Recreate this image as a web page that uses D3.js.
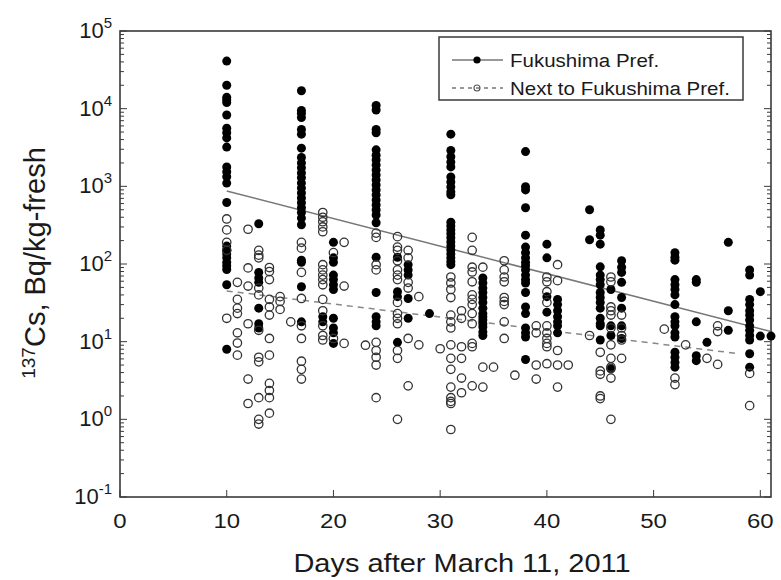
<!DOCTYPE html>
<html>
<head>
<meta charset="utf-8">
<script src="https://cdn.jsdelivr.net/npm/d3@7"></script>
<style>
  body { margin: 0; background: #fff; }
  svg { font-family: "Liberation Sans", Arial, sans-serif; }
</style>
</head>
<body>
<svg id="chart" width="781" height="580"></svg>
<script>
// 137Cs in vegetables, Bq/kg-fresh, grouped by day after March 11, 2011
const fukushima = [
  [10, [41000, 20000, 14000, 13000, 12000, 8300, 5600, 4900, 4200, 3200, 1780, 1540, 1330, 1100, 620, 170, 150, 135, 120, 105, 95, 85, 54, 8]],
  [13, [330, 78, 66, 58, 27, 17, 15]],
  [17, [17000, 9500, 8700, 7700, 5400, 4700, 3100, 2350, 2000, 1730, 1490, 1290, 1100, 950, 820, 710, 615, 530, 460, 390, 320, 112, 105, 51, 18]],
  [19, [21, 18]],
  [20, [190, 120, 105, 72, 63, 54, 47, 20, 15, 13, 9.5]],
  [24, [11000, 9600, 5400, 4900, 2950, 2520, 2180, 1880, 1620, 1400, 1210, 1040, 900, 775, 665, 575, 495, 428, 340, 122, 43, 21, 18, 16]],
  [26, [122, 44, 38, 9.8]],
  [27, [98, 84, 72, 36, 20]],
  [29, [23]],
  [31, [4700, 2900, 2400, 2050, 1780, 1320, 1140, 980, 850, 780, 345, 308, 275, 245, 218, 192, 170, 152, 135, 120, 108, 98]],
  [34, [66, 57, 49, 43, 37, 32, 27, 23, 21, 19, 17, 15.5, 13.3, 12]],
  [38, [2800, 990, 900, 530, 235, 165, 140, 120, 105, 95, 84, 72, 63, 57, 43, 28, 23, 15, 13, 11.5, 5.9]],
  [40, [180, 120, 38, 24]],
  [41, [35, 30, 25, 21, 18, 16, 13]],
  [44, [500, 205]],
  [45, [275, 235, 180, 92, 72, 63, 54, 43, 37, 32, 27, 20, 17, 16, 10.5]],
  [46, [47, 16, 12, 4.5]],
  [47, [110, 91, 78, 58, 37, 27, 16, 11]],
  [52, [140, 122, 112, 63, 54, 47, 40, 30, 21, 18, 16, 13, 11.5, 7.3, 6.3, 5.4, 4.7]],
  [54, [63, 58, 18, 6.6, 5.7]],
  [55, [9.8]],
  [57, [190, 25, 14]],
  [59, [84, 72, 35, 30, 25, 22, 19, 16, 14, 12, 10.5, 7.0, 4.7]],
  [60, [44, 11.8]],
  [61, [11.8]]
];

const nextTo = [
  [10, [380, 275, 190, 150, 20]],
  [11, [58, 35, 27, 23, 13, 9.6, 6.7]],
  [12, [280, 89, 52, 17, 3.3, 1.6]],
  [13, [150, 130, 120, 49, 40, 14, 6.3, 5.5, 1.9, 1.0, 0.87]],
  [14, [90, 80, 63, 35, 28, 22, 11, 6.7, 2.9, 2.35, 1.9, 1.2]],
  [15, [38, 33, 26]],
  [16, [18]],
  [17, [190, 160, 78, 36, 16, 11, 5.6, 4.4, 3.3]],
  [19, [460, 400, 350, 300, 260, 98, 84, 72, 63, 54, 35, 25, 16, 12, 10.5]],
  [20, [140, 11]],
  [21, [190, 52, 9.5]],
  [23, [9]],
  [24, [250, 220, 98, 84, 9.8, 7.7, 6.3, 5.0, 1.9]],
  [26, [225, 165, 150, 110, 84, 72, 63, 32, 23, 20, 17, 7.7, 6.1, 1.0]],
  [27, [150, 120, 58, 49, 11, 2.7]],
  [28, [38, 9.1]],
  [30, [8.1]],
  [31, [68, 57, 47, 37, 22, 18, 15, 9.1, 6.1, 4.4, 2.6, 1.9, 1.7, 1.6, 0.74]],
  [32, [25, 20, 8.6, 6.1, 3.4, 2.2]],
  [33, [220, 150, 91, 79, 59, 40, 35, 30, 23, 17, 9.5, 8.6, 2.7]],
  [34, [91, 4.7, 2.6]],
  [35, [4.7]],
  [36, [110, 84, 68, 59, 37, 33, 30, 18, 11]],
  [37, [3.7]],
  [39, [16, 13, 5, 3.3]],
  [40, [68, 59, 44, 32, 16, 13, 11, 9.5, 8.6, 5.2]],
  [41, [98, 61, 7.7, 5, 2.6]],
  [42, [5]],
  [44, [12]],
  [45, [7.3, 4.2, 3.8, 2.0, 1.85]],
  [46, [68, 59, 28, 25, 22, 15, 9.1, 6.1, 4.7, 4.5, 3.4, 1.0]],
  [47, [22, 15, 12, 10.5, 6.1]],
  [51, [14.5]],
  [52, [3.4, 2.8]],
  [53, [9.1]],
  [55, [6.1]],
  [56, [16, 13.5, 5.1]],
  [59, [3.9, 1.5]]
];

// exponential fits (straight on the log axis), end points
const fitFukushima = [[10, 870], [61, 13.5]];
const fitNextTo    = [[10, 45], [58, 7]];

const xTicks   = [0, 10, 20, 30, 40, 50, 60];
const yDecades = [-1, 0, 1, 2, 3, 4, 5];

const L = 120, R = 771, T = 31, B = 497;
const svg = d3.select('#chart');

const x = d3.scaleLinear().domain([0, 61]).range([L, R]);
const y = d3.scaleLog().domain([0.1, 1e5]).range([B, T]);

const flat = rows => rows.flatMap(([d, vs]) => vs.map(v => ({ d, v })));

// frame
const axisCol = '#3a3a3a';
svg.append('rect')
  .attr('x', L).attr('y', T).attr('width', R - L).attr('height', B - T)
  .attr('fill', '#fff').attr('stroke', axisCol).attr('stroke-width', 1.6);

// y ticks, minor + major, on both sides, pointing inward
const minor = [];
yDecades.slice(0, -1).forEach(k => {
  for (let m = 2; m <= 9; m++) minor.push(m * Math.pow(10, k));
});
const gTicks = svg.append('g').attr('stroke', axisCol).attr('stroke-width', 1);
[[L, 1], [R, -1]].forEach(([x0, dir]) => {
  gTicks.selectAll(null).data(minor).join('line')
    .attr('x1', x0).attr('x2', x0 + dir * 4)
    .attr('y1', d => y(d)).attr('y2', d => y(d));
  gTicks.selectAll(null).data(yDecades).join('line')
    .attr('x1', x0).attr('x2', x0 + dir * 7)
    .attr('y1', d => y(Math.pow(10, d))).attr('y2', d => y(Math.pow(10, d)));
});
gTicks.selectAll(null).data(xTicks).join('line')
  .attr('x1', d => x(d)).attr('x2', d => x(d))
  .attr('y1', B).attr('y2', B - 7);

// tick labels
svg.selectAll('.xl').data(xTicks).join('text')
  .attr('class', 'xl')
  .attr('transform', d => `translate(${x(d)},528) scale(1,0.88)`)
  .attr('text-anchor', 'middle')
  .attr('font-size', 24).attr('fill', '#1a1a1a')
  .text(d => d);

const yl = svg.selectAll('.yl').data(yDecades).join('text')
  .attr('class', 'yl')
  .attr('x', 112).attr('y', d => y(Math.pow(10, d)) + 7)
  .attr('text-anchor', 'end')
  .attr('font-size', 22).attr('fill', '#1a1a1a');
yl.append('tspan').text('10');
yl.append('tspan').attr('dy', -10).attr('font-size', 15).text(d => d);

// axis titles
svg.append('text')
  .attr('transform', 'translate(462,572) scale(1,0.88)')
  .attr('text-anchor', 'middle')
  .attr('font-size', 29).attr('fill', '#1a1a1a')
  .text('Days after March 11, 2011');

const yt = svg.append('text')
  .attr('transform', 'translate(45,263) rotate(-90)')
  .attr('text-anchor', 'middle')
  .attr('font-size', 29).attr('fill', '#1a1a1a');
yt.append('tspan').attr('font-size', 19).attr('dy', -10).text('137');
yt.append('tspan').attr('dy', 10).text('Cs,  Bq/kg-fresh');

// fit lines
const line = d3.line().x(d => x(d[0])).y(d => y(d[1]));
svg.append('path').datum(fitFukushima)
  .attr('d', line).attr('fill', 'none')
  .attr('stroke', '#777').attr('stroke-width', 1.5);
svg.append('path').datum(fitNextTo)
  .attr('d', line).attr('fill', 'none')
  .attr('stroke', '#888').attr('stroke-width', 1.5)
  .attr('stroke-dasharray', '6,5');

// points
svg.append('g').selectAll('circle').data(flat(fukushima)).join('circle')
  .attr('cx', d => x(d.d)).attr('cy', d => y(d.v)).attr('r', 4.5)
  .attr('fill', '#000');
svg.append('g').selectAll('circle').data(flat(nextTo)).join('circle')
  .attr('cx', d => x(d.d)).attr('cy', d => y(d.v)).attr('r', 4.2)
  .attr('fill', 'none').attr('stroke', '#333').attr('stroke-width', 1.3);

// legend
const lg = svg.append('g');
lg.append('rect')
  .attr('x', 439).attr('y', 37).attr('width', 304).attr('height', 63)
  .attr('fill', '#fff').attr('stroke', axisCol).attr('stroke-width', 1.5);
const legendRows = [
  { label: 'Fukushima Pref.', dash: null, fill: '#000', stroke: 'none', r: 3.6, cy: 60 },
  { label: 'Next to Fukushima Pref.', dash: '4,4', fill: 'none', stroke: '#555', r: 3, cy: 88 }
];
legendRows.forEach(r => {
  lg.append('line')
    .attr('x1', 452).attr('x2', 503).attr('y1', r.cy).attr('y2', r.cy)
    .attr('stroke', '#777').attr('stroke-width', 1.3)
    .attr('stroke-dasharray', r.dash);
  lg.append('circle').attr('cx', 477).attr('cy', r.cy).attr('r', r.r)
    .attr('fill', r.fill).attr('stroke', r.stroke).attr('stroke-width', 1.1);
  lg.append('text')
    .attr('transform', `translate(510,${r.cy + 7}) scale(1,0.9)`)
    .attr('font-size', 20.5).attr('fill', '#1a1a1a')
    .text(r.label);
});
</script>
</body>
</html>
